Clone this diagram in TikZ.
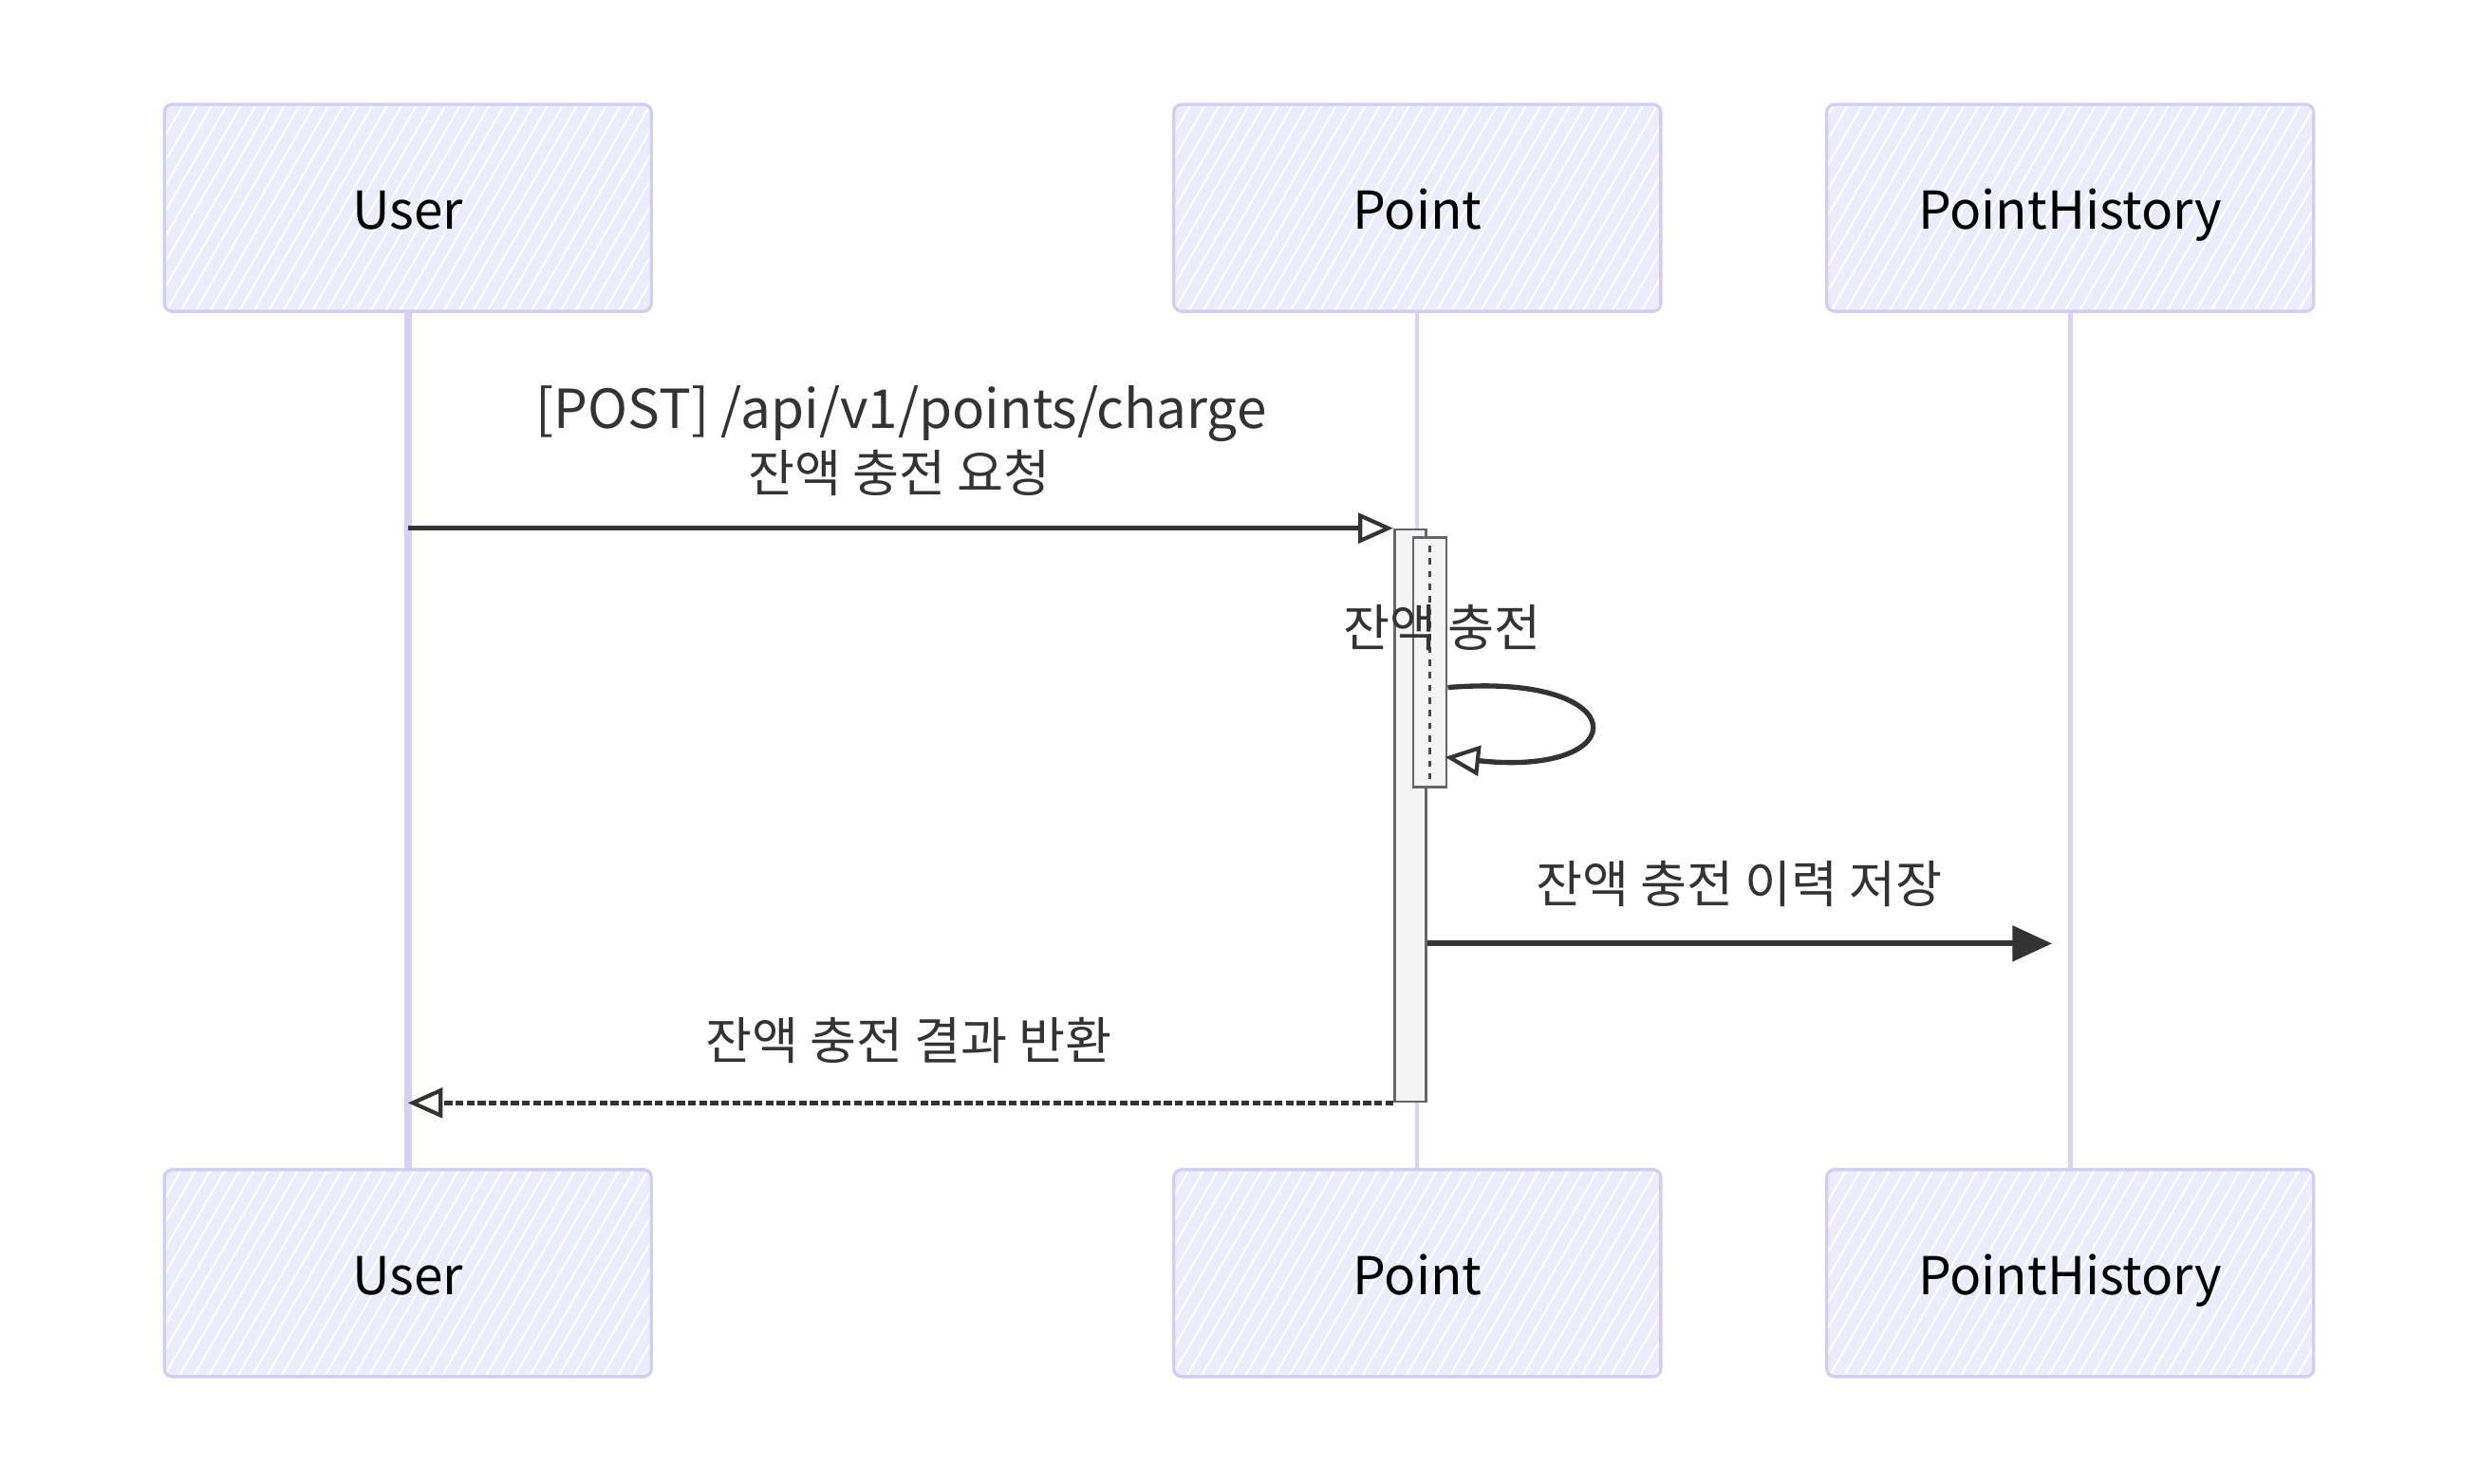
\documentclass[tikz,border=0pt]{standalone}
\usepackage{fontspec}
\setmainfont{Noto Sans CJK KR}
\usetikzlibrary{arrows.meta,patterns.meta}
\definecolor{actfill}{HTML}{ECECFF}
\definecolor{actline}{HTML}{D6CCF2}
\definecolor{lifecol}{HTML}{D9D0F5}
\definecolor{ink}{HTML}{333333}
\definecolor{actbox}{HTML}{F4F4F4}
\definecolor{actedge}{HTML}{666666}
\begin{document}
\begin{tikzpicture}[x=1pt,y=-1pt,
  actor/.style={preaction={fill=actfill},
    pattern={Lines[angle=60,distance=8pt,line width=1.2pt]}, pattern color=white,
    draw=actline, line width=2pt, rounded corners=5pt,
    minimum width=308pt, minimum height=131pt, inner sep=0pt,
    text height=32pt, text depth=5pt,
    font=\fontsize{33}{38}\selectfont, text=black},
  life/.style={draw=lifecol, line width=3pt},
  actbar/.style={draw=actedge, fill=actbox, line width=1.6pt, inner sep=0pt},
  lbl/.style={font=\fontsize{32}{38}\selectfont, text=ink, inner sep=0pt},
  msg/.style={draw=ink, line width=3.2pt},
  opentip/.style={-{Triangle[open,length=22pt,width=19pt,line width=2.5pt]}},
  filltip/.style={-{Triangle[length=25pt,width=22pt]}}
]
\useasboundingbox (0,0) rectangle (1568.7,938.9);

% actors
\node[actor] (ut) at (258,131.5) {User};
\node[actor] (pt) at (896.5,131.5) {Point};
\node[actor] (ht) at (1309.5,131.5) {PointHistory};
\node[actor] (ub) at (258,805.5) {User};
\node[actor] (pb) at (896.5,805.5) {Point};
\node[actor] (hb) at (1309.5,805.5) {PointHistory};

% lifelines
\draw[life, line width=4.5pt] (ut.south) -- (ub.north);
\draw[life, line width=2.5pt] (pt.south) -- (pb.north);
\draw[life] (ht.south) -- (hb.north);

% activation bars
\node[actbar, minimum width=20pt, minimum height=362pt] (a1) at (892,516) {};
\node[actbar, minimum width=21pt, minimum height=158pt] (a2) at (904.5,419) {};
\draw[ink!90, line width=2pt, dash pattern=on 4pt off 4pt] ([yshift=-6pt]a2.north) -- ([yshift=6pt]a2.south);

% coordinates
\coordinate (m1s) at (ut.south |- a1.north);
\coordinate (s1) at (a2.east |- 0,435);
\coordinate (s2) at (914,479);
\coordinate (m3s) at (a1.east |- 0,597);
\coordinate (m3e) at (1298,597);
\coordinate (m4e) at (ut.south |- a1.south);

% message 1
\draw[msg, opentip] (m1s) -- (a1.north west);
\node[lbl, font=\fontsize{34}{40}\selectfont] (l1a) at (570,262) {[POST] /api/v1/points/charge};
\node[lbl] (l1b) at (569,299) {잔액 충전 요청};

% self message
\node[lbl] (l2) at (912,397) {잔액 충전};
\draw[msg, opentip] (s1) .. controls (1035,425) and (1035,492) .. (s2);

% message 3
\node[lbl] (l3) at (1100,559) {잔액 충전 이력 저장};
\draw[msg, line width=3.6pt, filltip] (m3s) -- (m3e);

% message 4
\node[lbl] (l4) at (575,658) {잔액 충전 결과 반환};
\draw[msg, dash pattern=on 5pt off 2pt, opentip] (a1.south west) -- (m4e);
\end{tikzpicture}
\end{document}
